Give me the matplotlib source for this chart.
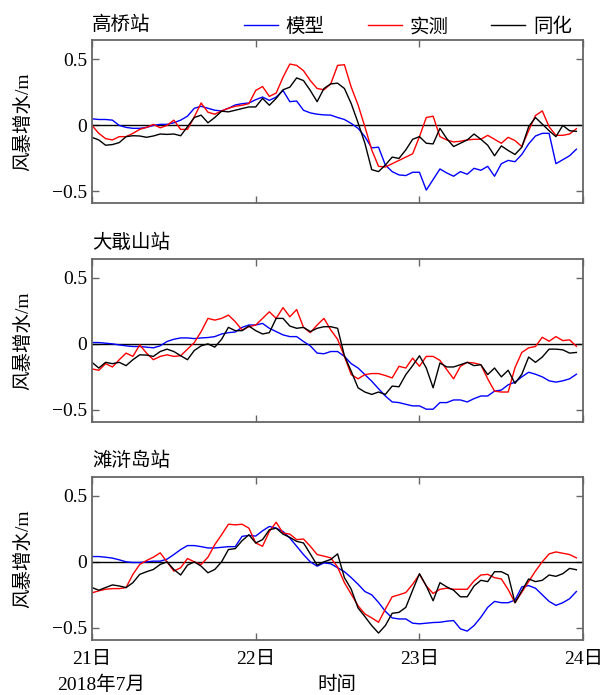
import numpy as np
import pandas as pd
import matplotlib
matplotlib.use("Agg")
import matplotlib.pyplot as plt
import matplotlib.dates as mdates

plt.rcParams['font.family'] = ['Liberation Serif', 'Noto Sans CJK SC', 'DejaVu Sans']
plt.rcParams['font.size'] = 14
plt.rcParams['axes.unicode_minus'] = True

# hourly time axis, 2018-07-21 00:00 ... 2018-07-23 23:00
times = pd.date_range("2018-07-21 00:00", periods=72, freq="h")

stations = ["高桥站", "大戢山站", "滩浒岛站"]
seriesNames = ["模型", "实测", "同化"]

# 高桥站
gq_model = [0.05, 0.045, 0.045, 0.04, 0.0, -0.015, -0.022, -0.022, -0.015, 0.0,
            0.008, 0.008, 0.02, 0.04, 0.07, 0.13, 0.145, 0.13, 0.115, 0.11,
            0.13, 0.155, 0.165, 0.17, 0.195, 0.215, 0.19, 0.215, 0.265, 0.18,
            0.185, 0.115, 0.095, 0.085, 0.08, 0.078, 0.06, 0.045, 0.015, -0.022,
            -0.085, -0.17, -0.165, -0.3, -0.35, -0.375, -0.38, -0.355, -0.355, -0.49,
            -0.41, -0.33, -0.36, -0.385, -0.35, -0.37, -0.325, -0.34, -0.31, -0.385,
            -0.29, -0.265, -0.275, -0.22, -0.14, -0.08, -0.06, -0.06, -0.29, -0.26,
            -0.23, -0.18]
gq_obs = [0.0, -0.06, -0.1, -0.11, -0.085, -0.085, -0.06, -0.03, -0.015, 0.008,
          -0.018, 0.0, 0.04, -0.03, -0.03, 0.065, 0.17, 0.1, 0.085, 0.11,
          0.13, 0.145, 0.153, 0.165, 0.265, 0.295, 0.22, 0.245, 0.365, 0.465,
          0.455, 0.415, 0.34, 0.28, 0.27, 0.315, 0.455, 0.46, 0.29, 0.155,
          -0.01, -0.185, -0.31, -0.315, -0.29, -0.265, -0.24, -0.215, -0.085, 0.06,
          0.07, -0.085, -0.11, -0.125, -0.12, -0.11, -0.105, -0.105, -0.075, -0.105,
          -0.135, -0.09, -0.115, -0.16, -0.04, 0.075, 0.11, -0.01, -0.075, -0.075,
          -0.065, -0.025]
gq_assim = [-0.09, -0.11, -0.15, -0.145, -0.13, -0.085, -0.078, -0.08, -0.09, -0.08,
            -0.065, -0.068, -0.065, -0.078, -0.01, 0.06, 0.078, 0.02, 0.06, 0.108,
            0.103, 0.115, 0.128, 0.14, 0.14, 0.205, 0.153, 0.205, 0.27, 0.29,
            0.36, 0.34, 0.265, 0.18, 0.28, 0.315, 0.32, 0.28, 0.165, 0.02,
            -0.135, -0.335, -0.35, -0.3, -0.24, -0.25, -0.185, -0.105, -0.085, -0.135,
            -0.14, -0.022, -0.1, -0.16, -0.135, -0.11, -0.065, -0.105, -0.15, -0.23,
            -0.155, -0.19, -0.22, -0.165, -0.01, 0.06, 0.01, -0.04, -0.085, 0.0,
            -0.04, -0.045]

# 大戢山站
dj_model = [0.01, 0.01, 0.005, 0.0, -0.008, -0.015, -0.02, -0.02, -0.025, -0.03,
            -0.015, 0.018, 0.035, 0.045, 0.045, 0.04, 0.045, 0.048, 0.055, 0.075,
            0.085, 0.09, 0.125, 0.143, 0.143, 0.155, 0.118, 0.093, 0.068, 0.055,
            0.055, 0.018, -0.015, -0.07, -0.075, -0.058, -0.058, -0.095, -0.15, -0.183,
            -0.233, -0.283, -0.34, -0.395, -0.44, -0.445, -0.458, -0.47, -0.47, -0.495,
            -0.495, -0.445, -0.445, -0.425, -0.425, -0.44, -0.415, -0.395, -0.395, -0.358,
            -0.35, -0.31, -0.29, -0.25, -0.215, -0.23, -0.25, -0.28, -0.29, -0.28,
            -0.265, -0.23]
dj_obs = [-0.19, -0.2, -0.15, -0.175, -0.12, -0.07, -0.095, -0.008, -0.07, -0.12,
          -0.095, -0.083, -0.095, -0.09, -0.04, 0.01, 0.093, 0.193, 0.18, 0.193,
          0.218, 0.168, 0.105, 0.13, 0.143, 0.193, 0.243, 0.193, 0.275, 0.205,
          0.26, 0.125, 0.085, 0.143, 0.193, 0.105, 0.035, -0.095, -0.233, -0.265,
          -0.233, -0.225, -0.225, -0.24, -0.258, -0.17, -0.183, -0.108, -0.17, -0.095,
          -0.095, -0.125, -0.195, -0.265, -0.17, -0.14, -0.145, -0.158, -0.265, -0.358,
          -0.365, -0.365, -0.18, -0.065, -0.03, -0.02, 0.05, 0.02, 0.055, 0.025,
          0.03, -0.018]
dj_assim = [-0.14, -0.183, -0.14, -0.15, -0.14, -0.165, -0.12, -0.083, -0.085, -0.095,
            -0.058, -0.04, -0.058, -0.09, -0.12, -0.05, -0.015, 0.0, -0.025, 0.035,
            0.125, 0.1, 0.1, 0.135, 0.1, 0.075, 0.085, 0.193, 0.193, 0.135,
            0.118, 0.125, 0.093, 0.118, 0.13, 0.13, 0.118, -0.09, -0.208, -0.333,
            -0.365, -0.383, -0.365, -0.383, -0.32, -0.325, -0.233, -0.165, -0.09, -0.183,
            -0.333, -0.145, -0.175, -0.175, -0.158, -0.14, -0.165, -0.158, -0.233, -0.183,
            -0.25, -0.2, -0.3, -0.23, -0.1, -0.14, -0.1, -0.04, -0.04, -0.045,
            -0.07, -0.065]

# 滩浒岛站
th_model = [0.04, 0.04, 0.035, 0.028, 0.015, 0.0, -0.005, -0.005, 0.0, 0.005,
            0.005, 0.02, 0.055, 0.093, 0.123, 0.123, 0.115, 0.105, 0.105, 0.11,
            0.115, 0.115, 0.193, 0.2, 0.195, 0.235, 0.268, 0.255, 0.23, 0.18,
            0.118, 0.055, 0.0, -0.033, -0.008, -0.015, -0.045, -0.075, -0.12, -0.17,
            -0.225, -0.25, -0.308, -0.375, -0.425, -0.433, -0.433, -0.465, -0.47, -0.465,
            -0.46, -0.458, -0.45, -0.445, -0.508, -0.525, -0.483, -0.42, -0.345, -0.3,
            -0.31, -0.31, -0.29, -0.19, -0.18, -0.2, -0.25, -0.3, -0.33, -0.31,
            -0.28, -0.225]
th_obs = [-0.235, -0.22, -0.208, -0.203, -0.203, -0.195, -0.095, -0.02, 0.01, 0.035,
          0.068, 0.0, -0.07, -0.045, 0.025, 0.0, -0.02, 0.035, 0.13, 0.205,
          0.285, 0.28, 0.285, 0.255, 0.143, 0.118, 0.23, 0.3, 0.218, 0.21,
          0.168, 0.173, 0.118, 0.055, 0.043, 0.03, -0.04, -0.158, -0.245, -0.333,
          -0.395, -0.425, -0.458, -0.358, -0.265, -0.25, -0.233, -0.17, -0.095, -0.183,
          -0.24, -0.208, -0.2, -0.208, -0.208, -0.208, -0.145, -0.1, -0.095, -0.12,
          -0.13, -0.21, -0.31, -0.23, -0.15, -0.07, 0.0, 0.06, 0.075, 0.065,
          0.055, 0.03]
th_assim = [-0.195, -0.215, -0.195, -0.175, -0.183, -0.195, -0.158, -0.095, -0.075, -0.058,
            -0.02, 0.0, -0.058, -0.1, -0.025, 0.0, -0.033, -0.083, -0.058, 0.0,
            0.093, 0.1, 0.16, 0.205, 0.143, 0.168, 0.243, 0.255, 0.21, 0.185,
            0.155, 0.143, 0.06, -0.025, 0.0, 0.018, 0.06, -0.12, -0.208, -0.35,
            -0.415, -0.483, -0.54, -0.483, -0.39, -0.383, -0.345, -0.215, -0.09, -0.183,
            -0.295, -0.158, -0.19, -0.215, -0.265, -0.265, -0.183, -0.14, -0.15, -0.075,
            -0.075, -0.1, -0.31, -0.22, -0.13, -0.15, -0.14, -0.1, -0.11, -0.09,
            -0.05, -0.06]

allData = [
    (gq_model, gq_obs, gq_assim),
    (dj_model, dj_obs, dj_assim),
    (th_model, th_obs, th_assim),
]
colors = ["#0000ff", "#ff0000", "#000000"]

fig = plt.figure(figsize=(6.05, 6.95), dpi=100)
axBottoms = [0.7075, 0.3932, 0.0796]
axList = []
for i, station in enumerate(stations):
    ax = fig.add_axes([0.152, axBottoms[i], 0.812, 0.2345])
    axList.append(ax)
    ax.axhline(0, color="k", linewidth=1.0)
    for values, color, name in zip(allData[i], colors, seriesNames):
        ax.plot(times, values, color=color, linewidth=1.0, label=name)
    ax.set_xlim(pd.Timestamp("2018-07-21"), pd.Timestamp("2018-07-24"))
    ax.set_ylim(-0.59, 0.645)
    ax.set_yticks([-0.5, 0, 0.5])
    ax.set_yticklabels(["\u22120.5", "0", "0.5"])
    ax.set_xticks(pd.date_range("2018-07-21", "2018-07-24", freq="D"))
    ax.tick_params(direction="in", top=True, right=True, length=5, width=1.0,
                   color="#666666", labelsize=14)
    ax.tick_params(axis="x", pad=8)
    for sp in ax.spines.values():
        sp.set_color("#666666")
        sp.set_linewidth(1.3)
    ax.set_ylabel("风暴增水/m", fontsize=14, labelpad=14)
    ax.text(0.0, 1.04, station, transform=ax.transAxes, ha="left", va="bottom",
            fontsize=14)
    if i < 2:
        ax.set_xticklabels([])
    else:
        ax.set_xticklabels(["21日", "22日", "23日", "24日"])

# bottom text row: date note and axis title
fig.text(57 / 605, 1 - 685 / 695, "2018年7月", ha="left", va="center", fontsize=14)
fig.text(337 / 605, 1 - 685 / 695, "时间", ha="center", va="center", fontsize=14)

handles, labels = axList[0].get_legend_handles_labels()
fig.legend(handles, labels, loc="center", ncol=3, frameon=False,
           bbox_to_anchor=(408 / 605, 1 - 27 / 695), handlelength=1.75,
           handletextpad=0.4, columnspacing=2.2, fontsize=14)

fig.savefig("out.png", dpi=100)
